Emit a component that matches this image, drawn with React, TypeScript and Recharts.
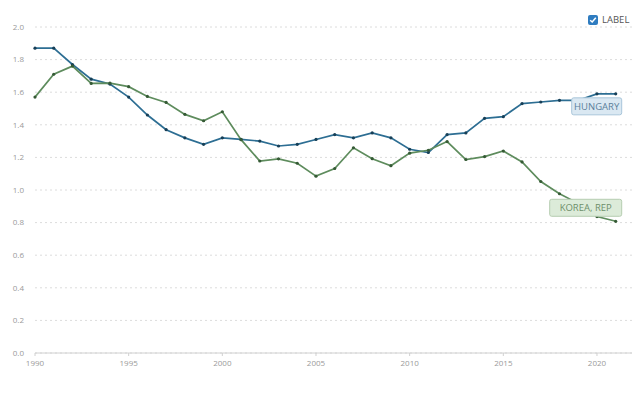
import React from 'react'
import { LineChart, Line, XAxis, YAxis, CartesianGrid, LabelList } from 'recharts'

const years = [
  1990, 1991, 1992, 1993, 1994, 1995, 1996, 1997, 1998, 1999,
  2000, 2001, 2002, 2003, 2004, 2005, 2006, 2007, 2008, 2009,
  2010, 2011, 2012, 2013, 2014, 2015, 2016, 2017, 2018, 2019,
  2020, 2021,
]

const hungary = [
  1.87, 1.87, 1.77, 1.68, 1.65, 1.57, 1.46, 1.37, 1.32, 1.28,
  1.32, 1.31, 1.30, 1.27, 1.28, 1.31, 1.34, 1.32, 1.35, 1.32,
  1.25, 1.23, 1.34, 1.35, 1.44, 1.45, 1.53, 1.54, 1.55, 1.55,
  1.59, 1.59,
]

const korea = [
  1.57, 1.71, 1.76, 1.654, 1.656, 1.634, 1.574, 1.537, 1.464, 1.425,
  1.48, 1.309, 1.178, 1.191, 1.164, 1.085, 1.132, 1.259, 1.192, 1.149,
  1.226, 1.244, 1.297, 1.187, 1.205, 1.239, 1.172, 1.052, 0.977, 0.918,
  0.837, 0.808,
]

const xTicks = [1990, 1995, 2000, 2005, 2010, 2015, 2020]
const yTicks = [0, 0.2, 0.4, 0.6, 0.8, 1.0, 1.2, 1.4, 1.6, 1.8, 2.0]

const data = years.map((year, i) => ({ year, hungary: hungary[i], korea: korea[i] }))

const FONT = '"Open Sans", "Noto Sans", sans-serif'
const tickStyle = { fill: '#9a9a9a', fontSize: 8, fontFamily: FONT }

// end-of-line name tag, drawn on the last point only
function makeTag(text: string, fill: string, stroke: string, color: string, w: number, below: boolean) {
  return (props: any) => {
    const { x, y, index } = props
    if (index !== years.length - 1) return null
    const h = 17
    const left = x + 6 - w
    const top = below ? y + 4 : y - 5 - h
    return (
      <g>
        <rect x={left} y={top} width={w} height={h} rx={2} fill={fill} stroke={stroke} strokeWidth={1} />
        <text x={left + w / 2} y={top + 12} textAnchor="middle" fontSize={9.5} fill={color} fontFamily={FONT}>
          {text}
        </text>
      </g>
    )
  }
}

export default function App() {
  return (
    <div style={{ position: 'relative', width: 640, height: 394, margin: -8, background: '#fff', overflow: 'hidden' }}>
      <div style={{ position: 'absolute', left: 0, top: 0, width: 640, height: 2, background: '#eeeeee' }} />
      <div style={{ position: 'absolute', left: 0, top: 0, width: 52, height: 2, background: '#6ea8cc' }} />

      <div style={{ position: 'absolute', left: 588, top: 13, display: 'flex', alignItems: 'center', fontFamily: FONT }}>
        <div style={{ width: 10, height: 10, borderRadius: 2, background: '#2f7cc0', display: 'flex', alignItems: 'center', justifyContent: 'center' }}>
          <svg width="8" height="8" viewBox="0 0 8 8">
            <path d="M1.2 4.2 L3.2 6 L6.8 1.8" stroke="#fff" strokeWidth="1.5" fill="none" />
          </svg>
        </div>
        <span style={{ marginLeft: 4, fontSize: 9.5, color: '#555' }}>LABEL</span>
      </div>

      <LineChart width={640} height={394} data={data} margin={{ top: 27, right: 8, bottom: 21, left: 0 }}>
        <CartesianGrid vertical={false} stroke="#dcdcdc" strokeDasharray="2 3" />
        <XAxis
          dataKey="year"
          type="number"
          domain={[1990, 2021.87]}
          ticks={xTicks}
          tick={tickStyle}
          stroke="#d0d0d0"
          tickSize={3}
          tickMargin={4}
          height={20}
        />
        <YAxis
          domain={[0, 2]}
          ticks={yTicks}
          tick={tickStyle}
          axisLine={false}
          tickLine={false}
          tickSize={0}
          tickMargin={11}
          width={35}
          tickFormatter={(v: number) => v.toFixed(1)}
        />
        <Line
          dataKey="hungary"
          stroke="#2d6e93"
          strokeWidth={1.7}
          dot={{ r: 1.6, fill: '#173f57', stroke: 'none' }}
          isAnimationActive={false}
        >
          <LabelList dataKey="hungary" content={makeTag('HUNGARY', '#dae8f2', '#a9c6da', '#5b7f9a', 50, true)} />
        </Line>
        <Line
          dataKey="korea"
          stroke="#5e8c5d"
          strokeWidth={1.7}
          dot={{ r: 1.6, fill: '#355a35', stroke: 'none' }}
          isAnimationActive={false}
        >
          <LabelList dataKey="korea" content={makeTag('KOREA, REP', '#dcebd9', '#b6cdb1', '#6e8f6a', 72, false)} />
        </Line>
      </LineChart>
    </div>
  )
}
